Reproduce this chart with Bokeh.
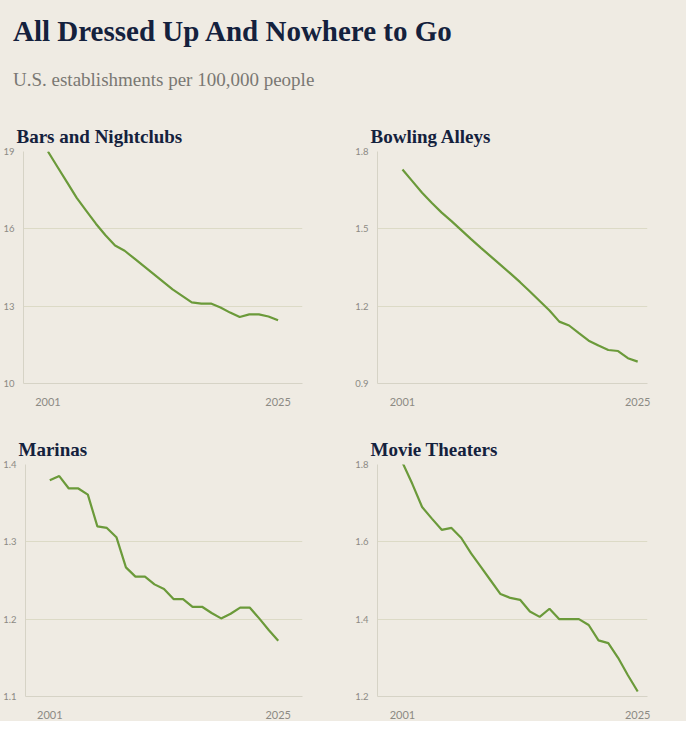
from bokeh.plotting import figure
from bokeh.layouts import column, row
from bokeh.models import Div, FixedTicker
from bokeh.embed import file_html
from bokeh.resources import INLINE

years = list(range(2001, 2026))
bars = [19.0, 18.4, 17.8, 17.2, 16.7, 16.2, 15.75, 15.35, 15.15, 14.85, 14.55, 14.25, 13.95,
        13.65, 13.4, 13.15, 13.1, 13.1, 12.95, 12.75, 12.58, 12.68, 12.68, 12.6, 12.45]
bowling = [1.73, 1.685, 1.64, 1.60, 1.563, 1.53, 1.495, 1.46, 1.426, 1.393, 1.36, 1.327, 1.293,
           1.257, 1.22, 1.183, 1.14, 1.125, 1.095, 1.066, 1.047, 1.03, 1.026, 0.998, 0.985]
marinas = [1.3795, 1.385, 1.369, 1.369, 1.361, 1.320, 1.318, 1.306, 1.267, 1.255, 1.255, 1.245,
           1.239, 1.226, 1.226, 1.216, 1.216, 1.208, 1.201, 1.207, 1.215, 1.215, 1.201, 1.186, 1.172]
movies = [1.805, 1.75, 1.69, 1.66, 1.631, 1.636, 1.61, 1.57, 1.535, 1.50, 1.465, 1.455, 1.45,
          1.42, 1.406, 1.427, 1.40, 1.40, 1.40, 1.385, 1.345, 1.338, 1.30, 1.255, 1.213]
titles = ["Bars and Nightclubs", "Bowling Alleys", "Marinas", "Movie Theaters"]
yticks = [[10, 13, 16, 19], [0.9, 1.2, 1.5, 1.8], [1.1, 1.2, 1.3, 1.4], [1.2, 1.4, 1.6, 1.8]]
xticks = [2001, 2025]

BG = "#efebe3"
NAVY = "#14213d"
SERIF = "Liberation Serif"

def panel(title, vals, ticks, left):
    if left:
        w, bl, br, xr = 338, 17, 36, (1998.45, 2027.55)
    else:
        w, bl, br, xr = 338, 39, 29, (1998.45, 2026.0)
    p = figure(width=w, height=290, output_backend="svg", toolbar_location=None,
               x_range=xr, y_range=(ticks[0], ticks[-1]),
               min_border_left=bl, min_border_right=br, min_border_top=12, min_border_bottom=24,
               background_fill_color=BG, border_fill_color=BG, outline_line_color=None,
               title=title)
    p.title.text_font = SERIF
    p.title.text_font_size = "19px"
    p.title.text_font_style = "bold"
    p.title.text_color = NAVY
    p.title.offset = -7
    p.title.standoff = 10
    p.line(years, vals, line_color="#6b9a3a", line_width=2.2)
    p.xaxis.ticker = FixedTicker(ticks=xticks)
    p.yaxis.ticker = FixedTicker(ticks=ticks)
    for ax in (p.xaxis, p.yaxis):
        ax.axis_line_color = "#d6d3c6"
        ax.major_tick_line_color = None
        ax.minor_tick_line_color = None
        ax.major_label_text_color = "#8c8a84"
        ax.major_label_text_font = "Lato"
    p.xaxis.major_label_text_font_size = "11px"
    p.yaxis.major_label_text_font_size = "9.5px"
    p.yaxis.major_label_standoff = 3
    p.xaxis.major_label_standoff = 8
    p.xgrid.grid_line_color = None
    p.ygrid.grid_line_color = "#dcdac6"
    return p

ps = [panel(t, v, tk, i % 2 == 0) for i, (t, v, tk) in
      enumerate(zip(titles, [bars, bowling, marinas, movies], yticks))]

header = Div(text=(f'<div style="font-family:{SERIF};font-weight:bold;font-size:29px;color:{NAVY};'
                   f'padding:6px 0 0 8px;">All Dressed Up And Nowhere to Go</div>'
                   f'<div style="font-family:{SERIF};font-size:19px;color:#7a7873;'
                   f'padding:14px 0 0 8px;">U.S. establishments per 100,000 people</div>'),
             width=676, height=108, styles={"background-color": BG})

layout = column(header, row(ps[0], ps[1]), row(ps[2], ps[3]), spacing=0,
                styles={"background-color": BG})
layout.children[2].styles = {"margin-top": "23px"}

html = file_html(layout, INLINE, title="chart")
html = html.replace("<body>", f'<body style="background-color:{BG};">', 1)
open("out.html", "w").write(html)
